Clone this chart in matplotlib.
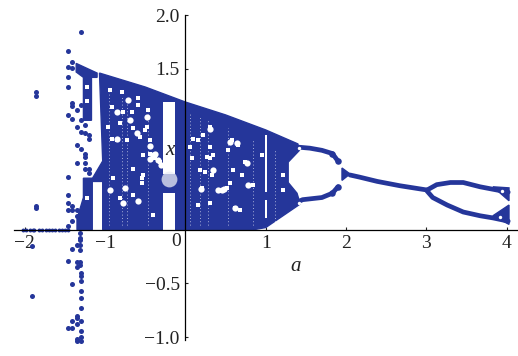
import matplotlib
matplotlib.use('Agg')

import matplotlib.pyplot as plt

BLUE = '#25369a'

# --- scattered points ---
pts_a = [-1.30, -1.46, -1.41, -1.46, -1.41, -1.46, -1.46, -1.41, -1.41, -1.35, -1.30, -1.46, -1.41,
         -1.30, -1.35, -1.25, -1.30, -1.25, -1.20, -1.20, -1.35, -1.30, -1.25, -1.25, -1.35, -1.25,
         -1.25, -1.20, -1.20, -1.46, -1.86, -1.86, -1.86, -1.86, -1.46, -1.46, -1.46, -1.41, -1.41,
         -1.35, -1.35, -1.41, -1.46, -1.91, -1.91,
         -1.31, -1.31, -1.31, -1.41, -1.35, -1.31, -1.31, -1.35, -1.31, -1.31, -1.46, -1.35, -1.30,
         -1.30, -1.30, -1.41, -1.30, -1.30, -1.30, -1.35, -1.35, -1.30, -1.41, -1.35, -1.46, -1.41,
         -1.30, -1.30, -1.35, -1.30, -1.35]
pts_x = [1.84, 1.67, 1.56, 1.52, 1.51, 1.42, 1.33, 1.18, 1.15, 1.12, 1.16, 1.07, 1.03,
         1.02, 0.96, 0.98, 0.91, 0.90, 0.88, 0.85, 0.79, 0.75, 0.71, 0.68, 0.62, 0.62,
         0.57, 0.57, 0.53, 0.49, 1.28, 1.25, 0.22, 0.20, 0.32, 0.25, 0.18, 0.18, 0.22,
         0.18, 0.13, 0.08, 0.03, -0.15, -0.62,
         -0.03, -0.08, -0.10, -0.18, -0.14, -0.14, -0.19, -0.30, -0.30, -0.33, -0.29, -0.35, -0.40,
         -0.43, -0.48, -0.51, -0.57, -0.64, -0.73, -0.80, -0.82, -0.85, -0.85, -0.88, -0.92, -0.92,
         -0.94, -1.00, -1.02, -1.04, -1.04]

# short row lying on the axis
row_a = [-2.02, -1.98, -1.94, -1.90, -1.88, -1.82, -1.78, -1.74, -1.70, -1.66, -1.62, -1.58, -1.54, -1.50, -1.46]
row_x = [0.0] * len(row_a)

# --- filled chaotic bands ---
body_a = [-1.07, -0.5, 0.0, 0.5, 1.0, 1.40, 1.42, 1.28, 1.28, 1.39, 1.43, 1.0, 0.85, -1.03, -1.03, -1.18, -1.03]
body_x = [1.46, 1.33, 1.19, 1.07, 0.93, 0.80, 0.74, 0.63, 0.44, 0.34, 0.24, 0.02, 0.0, 0.0, 0.45, 0.45, 0.64]
top_a = [-1.36, -1.10, -1.10, -1.17, -1.17, -1.27, -1.27, -1.36]
top_x = [1.55, 1.46, 1.42, 1.42, 1.02, 1.02, 1.42, 1.47]
low_a = [-1.27, -1.16, -1.16, -1.35, -1.35, -1.27]
low_x = [0.48, 0.48, 0.0, 0.0, 0.10, 0.30]

# --- periodic branches ---
up1_a = [1.40, 1.55, 1.70, 1.83, 1.90]
up1_x = [0.77, 0.76, 0.74, 0.71, 0.64]
lo1_a = [1.40, 1.46, 1.70, 1.83, 1.90]
lo1_x = [0.26, 0.28, 0.30, 0.34, 0.40]
tri2_a = [1.95, 1.95, 2.05]
tri2_x = [0.575, 0.46, 0.52]
stem_a = [2.05, 2.17, 2.39, 2.67, 3.01]
stem_x = [0.51, 0.49, 0.45, 0.41, 0.37]
up2_a = [3.01, 3.13, 3.30, 3.46, 3.67, 3.88, 4.02]
up2_x = [0.37, 0.42, 0.44, 0.44, 0.40, 0.37, 0.35]
lo2_a = [3.01, 3.08, 3.26, 3.46, 3.67, 3.83, 4.02]
lo2_x = [0.36, 0.30, 0.23, 0.165, 0.13, 0.11, 0.08]
tri3_a = [3.83, 4.03, 4.03]
tri3_x = [0.40, 0.39, 0.27]
tri4_a = [3.83, 4.03, 4.03]
tri4_x = [0.13, 0.23, 0.05]

# --- white gaps inside the bands ---
hole_a = [0.31, 0.09, 0.22, 0.16, 0.58, 0.65, 0.53, 0.31, 0.96, 0.27, 0.34, 0.06,
          0.31, 0.08, 0.24, 0.18, 0.33, 0.59, 0.74, 0.70, 0.56, 0.21, 0.43, 0.52, 0.84,
          0.16, 0.31, 0.62, 0.68,
          -0.94, -0.79, -0.91, -0.78, -0.66, -0.59, -0.59, -0.47, -0.81, -0.65, -0.96, -0.48,
          -0.73, -0.91, -0.57, -0.44, -0.44, -0.53, -0.38, -0.32, -0.90, -0.54, -0.53, -0.65,
          -0.40, -0.81, -0.50, -0.85, -0.54, -0.65,
          1.22, 1.22, -1.22, -1.22, -1.22]
hole_x = [0.96, 0.85, 0.88, 0.84, 0.84, 0.79, 0.74, 0.77, 0.70, 0.68, 0.70, 0.77,
          0.67, 0.67, 0.54, 0.56, 0.51, 0.56, 0.63, 0.51, 0.44, 0.39, 0.36, 0.39, 0.42,
          0.23, 0.25, 0.20, 0.18,
          1.30, 1.28, 1.14, 1.10, 1.10, 1.23, 1.16, 1.12, 0.99, 0.95, 0.96, 0.96,
          0.84, 0.85, 0.86, 0.84, 0.71, 0.70, 0.67, 0.63, 0.48, 0.48, 0.51, 0.32,
          0.14, 0.30, 0.93, 0.84, 0.44, 0.57,
          0.51, 0.37, 1.33, 1.20, 0.30]

# larger patches
patch_a = [-0.44, -0.40, -0.34, -0.30, -0.44, -0.78, -0.59, -0.75, -0.94, 0.48, 0.31, 0.78, 0.64, 0.56,
           0.77, 0.34, 0.40, -0.71, -0.85, -0.69, -0.48, -0.60, -0.85, -0.38, 0.20, 0.46, 0.62]
patch_x = [0.78, 0.70, 0.65, 0.60, 0.66, 0.25, 0.27, 0.39, 0.37, 0.38, 0.94, 0.42, 0.81, 0.82,
           0.62, 0.56, 0.37, 1.21, 1.10, 1.02, 1.05, 0.90, 0.85, 0.71, 0.38, 0.37, 0.20]

# small gaps where the band splits and near a = 4
tiny_a = [3.92, 3.94, 1.41, 1.41]
tiny_x = [0.12, 0.36, 0.76, 0.25]

# periodic windows, as (a_left, a_right, x_low, x_high)
win_a0 = [-0.28, -0.28, 0.985, 0.985]
win_a1 = [-0.13, -0.13, 1.01, 1.01]
win_lo = [0.0, 0.52, 0.35, 0.11]
win_hi = [0.34, 1.19, 0.88, 0.28]

# faint dotted vertical seams in the band
seam_a = [-0.79, -0.73, -0.47, 0.18, 0.53, 0.84, 1.11, -0.95, 0.06, 0.28]
seam_top = [1.25, 1.25, 1.15, 1.05, 0.95, 0.85, 0.75, 1.30, 1.10, 1.02]

xtick_vals = [-2, -1, 1, 2, 3, 4]
xtick_text = ['\u22122', '\u22121', '1', '2', '3', '4']
ytick_vals = [-1.0, -0.5, 0.5, 1.0, 1.5, 2.0]
ytick_text = ['\u22121.0', '\u22120.5', '0.5', '1.0', '1.5', '2.0']

plt.rcParams['font.family'] = ['Liberation Serif', 'DejaVu Serif']

fig = plt.figure(figsize=(5.18, 3.56), dpi=100)
ax = fig.add_axes([0, 0, 1, 1])
ax.set_xlim(-2.309, 4.142)
ax.set_ylim(-1.177, 2.141)
ax.patch.set_visible(False)

# bands first, then the gaps cut into them
for xs, ys in [(body_a, body_x), (top_a, top_x), (low_a, low_x),
               (tri2_a, tri2_x), (tri3_a, tri3_x), (tri4_a, tri4_x)]:
    ax.fill(xs, ys, color=BLUE, lw=1, zorder=2)

for a0, a1, lo, hi in zip(win_a0, win_a1, win_lo, win_hi):
    ax.fill_between([a0, a1], lo, hi, color='white', lw=0, zorder=3)
ax.scatter(hole_a, hole_x, s=10, marker='s', color='white', lw=0, zorder=3)
ax.scatter(patch_a, patch_x, s=20, marker='o', color='white', lw=0, zorder=3)
ax.vlines(seam_a, 0.04, seam_top, colors='white', lw=0.6, linestyles=(0, (1, 3)), alpha=0.8, zorder=3)

# branches
for xs, ys in [(up1_a, up1_x), (lo1_a, lo1_x), (stem_a, stem_x), (up2_a, up2_x), (lo2_a, lo2_x)]:
    ax.plot(xs, ys, color=BLUE, lw=3.4, solid_capstyle='round', zorder=4)
ax.scatter(up1_a[-2:], up1_x[-2:], s=22, color=BLUE, lw=0, zorder=4)
ax.scatter(lo1_a[-2:], lo1_x[-2:], s=22, color=BLUE, lw=0, zorder=4)
ax.scatter(tiny_a, tiny_x, s=6, color='white', lw=0, zorder=4.5)

ax.scatter(pts_a, pts_x, s=13, color=BLUE, lw=0, zorder=4)
ax.scatter(row_a, row_x, s=8, color=BLUE, lw=0, zorder=4)

# spines crossing at the origin
for side in ['top', 'right']:
    ax.spines[side].set_visible(False)
for side in ['left', 'bottom']:
    ax.spines[side].set_position(('data', 0))
    ax.spines[side].set_linewidth(0.9)
    ax.spines[side].set_zorder(5)
ax.spines['left'].set_bounds(-1.03, 2.0)
ax.spines['bottom'].set_bounds(-2.14, 4.13)

ax.set_xticks(xtick_vals)
ax.set_xticklabels(xtick_text)
ax.set_yticks(ytick_vals)
ax.set_yticklabels(ytick_text)
ax.tick_params(axis='both', direction='in', length=2.5, width=0.8, labelsize=14, colors='#222222', zorder=5)
ax.tick_params(axis='x', pad=4)
ax.tick_params(axis='y', pad=4)

# pale smudge behind the 0.5 label, as in the scan
ax.scatter([-0.2], [0.47], s=130, color='#eceef6', lw=0, alpha=0.75, zorder=3.5)

ax.text(-0.115, -0.03, '0', fontsize=14, color='#222222', ha='center', va='top', zorder=6)
ax.text(1.37, -0.34, 'a', fontsize=15, style='italic', color='#222222', ha='center', va='center', zorder=6)
ax.text(-0.19, 0.735, 'x', fontsize=15, style='italic', color='#222222', ha='center', va='center', zorder=6)

for lab in ax.get_xticklabels() + ax.get_yticklabels():
    lab.set_zorder(6)

plt.savefig('out.png', dpi=100)
